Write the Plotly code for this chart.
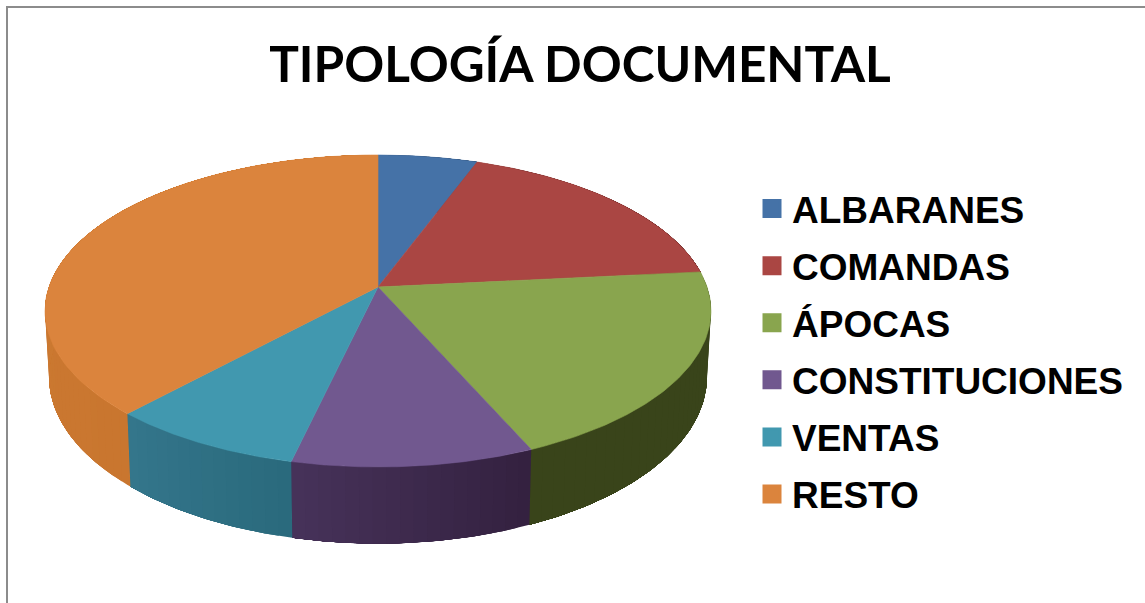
import numpy as np
import plotly.graph_objects as go

# ---- data ----
categories = ["ALBARANES", "COMANDAS", "ÁPOCAS", "CONSTITUCIONES", "VENTAS", "RESTO"]
values = [5.6, 17.8, 20.05, 10.15, 8.2, 38.2]
title_text = "TIPOLOGÍA DOCUMENTAL"

# ---- style ----
top_colors = ["#4572A7", "#AA4643", "#89A54E", "#71588F", "#4198AF", "#DB843D"]
wall_start = ["#2B4566", "#672A28", "#39441A", "#33203F", "#2A6A7C", "#C9762F"]
wall_end   = ["#2B4566", "#672A28", "#39441A", "#47335A", "#34768C", "#D07E36"]

W, H = 1145, 603
CX, CY = 378.0, 287.0       # pie apex on the page
A, B, K = 329.0, 152.3, 0.1538  # tilt-and-perspective of the disk
DROP, SHRINK, STRETCH = 64.0, 0.988, 1.07  # lower face of the pie


def project(theta, drop=0.0, xscale=1.0, yscale=1.0):
    """theta clockwise from 12 o'clock, in degrees."""
    t = np.radians(theta)
    u, v = np.sin(t), np.cos(t)
    w = 1 + K * v
    return CX + xscale * A * u / w, CY + drop - yscale * B * v / w


def hex_rgb(c):
    return np.array([int(c[i:i + 2], 16) for i in (1, 3, 5)], float)


def mix(c1, c2, f):
    r = hex_rgb(c1) * (1 - f) + hex_rgb(c2) * f
    return "rgb(%d,%d,%d)" % tuple(r.round())


edges = np.concatenate([[0.0], np.cumsum(values)]) / np.sum(values) * 360.0
fig = go.Figure()

# side wall: each strip runs on to the end of its slice and the next one paints over it,
# so the shading along the rim shows no seams
for i in range(len(values)):
    a0, a1 = edges[i], edges[i + 1]
    n = max(2, int((a1 - a0) / 2))
    steps = np.linspace(a0, a1, n + 1)
    for j in range(n):
        arc = np.linspace(steps[j], a1, max(4, (n - j) * 3))
        xt, yt = project(arc)
        xb, yb = project(arc[::-1], drop=DROP, xscale=SHRINK, yscale=STRETCH)
        col = mix(wall_start[i], wall_end[i], (j + 0.5) / n)
        fig.add_trace(go.Scatter(
            x=np.concatenate([xt, xb]), y=np.concatenate([yt, yb]),
            mode="lines", fill="toself", fillcolor=col,
            line=dict(width=0), hoverinfo="skip", showlegend=False))

# top face
for i, name in enumerate(categories):
    arc = np.linspace(edges[i], edges[i + 1], 90)
    xt, yt = project(arc)
    fig.add_trace(go.Scatter(
        x=np.concatenate([[CX], xt, [CX]]), y=np.concatenate([[CY], yt, [CY]]),
        mode="lines", fill="toself", fillcolor=top_colors[i],
        line=dict(color=top_colors[i], width=0.6),
        name=name, hoverinfo="name", showlegend=False))

# legend entries
for i, name in enumerate(categories):
    fig.add_trace(go.Scatter(
        x=[None], y=[None], mode="markers", name=name, legendgroup=name,
        marker=dict(symbol="square", size=16, color=top_colors[i],
                    line=dict(color=top_colors[i], width=3))))

fig.update_layout(
    width=W, height=H,
    margin=dict(l=0, r=0, t=0, b=0),
    paper_bgcolor="white", plot_bgcolor="white",
    xaxis=dict(range=[0, W], visible=False, fixedrange=True),
    yaxis=dict(range=[H, 0], visible=False, fixedrange=True),
    title=dict(text=title_text, x=580 / W, xanchor="center", y=1 - 65 / H, yanchor="middle",
               font=dict(family="Lato", size=49.5, color="black", weight=700)),
    legend=dict(x=752 / W, y=1 - 178 / H, xanchor="left", yanchor="top",
                font=dict(family="Liberation Sans", size=37, color="black", weight=700),
                traceorder="grouped", tracegroupgap=6, bgcolor="rgba(0,0,0,0)",
                itemclick=False, itemdoubleclick=False),
    shapes=[dict(type="path", path=f"M 7 {H} L 7 7 L {W} 7",
                 line=dict(color="#8C8C8C", width=2), xref="x", yref="y")],
)

fig.write_html("out.html", config={"displayModeBar": False},
               post_script="document.body.style.margin='0';document.body.style.overflow='hidden';")
